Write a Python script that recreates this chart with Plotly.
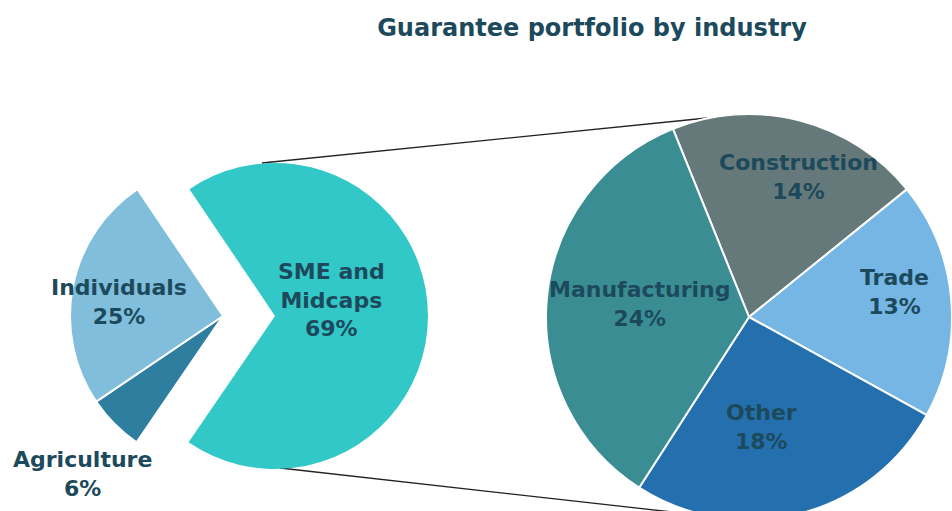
import plotly.graph_objects as go

# ---- data ----
outer_labels = ["SME and<br>Midcaps", "Agriculture", "Individuals"]
outer_values = [69, 6, 25]
outer_colors = ["#33c8c8", "#2e7ea0", "#80bedb"]

inner_labels = ["Construction", "Trade", "Other", "Manufacturing"]
inner_values = [14, 13, 18, 24]
inner_colors = ["#66797a", "#76b6e4", "#2470af", "#3a8e93"]

title_text = "Guarantee portfolio by industry"

# ---- layout geometry (pixels) ----
# The figure is a little larger than the 952x511 window so that the
# right-hand pie is cut off by the window edge, as in the reference.
W, H = 960, 522
TXT = "#1c4a5c"
FONT = "DejaVu Sans"

def px(x, y):
    return x / W, 1 - y / H

def dom(cx, cy, r):
    x0, y1 = px(cx - r, cy - r)
    x1, y0 = px(cx + r, cy + r)
    return dict(x=[x0, x1], y=[y0, y1])

L_CX, L_CY, L_R = 223, 316, 153
PULL = 52
R_CX, R_CY, R_R = 749, 317, 203

fig = go.Figure()

# left pie: base slices (Agriculture, Individuals)
fig.add_trace(go.Pie(
    labels=outer_labels, values=outer_values, sort=False,
    direction="clockwise", rotation=-34,
    marker=dict(colors=["rgba(0,0,0,0)", outer_colors[1], outer_colors[2]],
                line=dict(color=["rgba(0,0,0,0)", "white", "white"], width=2)),
    textinfo="none", hoverinfo="skip", showlegend=False,
    domain=dom(L_CX, L_CY, L_R),
))
# left pie: exploded SME slice
fig.add_trace(go.Pie(
    labels=outer_labels, values=outer_values, sort=False,
    direction="clockwise", rotation=-34,
    marker=dict(colors=[outer_colors[0], "rgba(0,0,0,0)", "rgba(0,0,0,0)"],
                line=dict(color="rgba(0,0,0,0)", width=0)),
    textinfo="none", hoverinfo="label+percent", showlegend=False,
    domain=dom(L_CX + PULL, L_CY, L_R),
))
# right pie: breakdown of SME and Midcaps
fig.add_trace(go.Pie(
    labels=inner_labels, values=inner_values, sort=False,
    direction="clockwise", rotation=-22,
    marker=dict(colors=inner_colors, line=dict(color="white", width=2)),
    textinfo="none", hoverinfo="label+value", showlegend=False,
    domain=dom(R_CX, R_CY, R_R),
))

# connector lines
for (x0, y0), (x1, y1) in [((262, 163), (707, 118)), ((280, 468), (690, 514))]:
    a, b = px(x0, y0)
    c, d = px(x1, y1)
    fig.add_shape(type="line", xref="paper", yref="paper", x0=a, y0=b, x1=c, y1=d,
                  line=dict(color="#222222", width=1.3), layer="below")

# slice labels
label_pos = {
    "SME and<br>Midcaps": (331, 300),
    "Agriculture": (82, 474),
    "Individuals": (119, 302),
    "Construction": (798, 177),
    "Trade": (894, 292),
    "Other": (761, 427),
    "Manufacturing": (640, 304),
}
for lab, val in list(zip(outer_labels, outer_values)) + list(zip(inner_labels, inner_values)):
    x, y = label_pos[lab]
    a, b = px(x, y)
    fig.add_annotation(x=a, y=b, xref="paper", yref="paper", showarrow=False,
                       xanchor="center", yanchor="middle",
                       text=f"<b>{lab}<br>{val}%</b>", align="center",
                       font=dict(family=FONT, size=22, color=TXT))

tx, ty = px(592, 28)
fig.update_layout(
    width=W, height=H,
    margin=dict(l=0, r=0, t=0, b=0),
    paper_bgcolor="white", plot_bgcolor="white",
    title=dict(text=f"<b>{title_text}</b>", x=tx, xanchor="center",
               y=ty, yanchor="middle",
               font=dict(family=FONT, size=24, color=TXT)),
)

fig.write_html(
    "out.html",
    config={"displayModeBar": False},
    post_script=(
        "document.documentElement.style.margin='0';"
        "document.documentElement.style.overflow='hidden';"
        "document.body.style.margin='0';"
        "document.body.style.overflow='hidden';"
    ),
)
